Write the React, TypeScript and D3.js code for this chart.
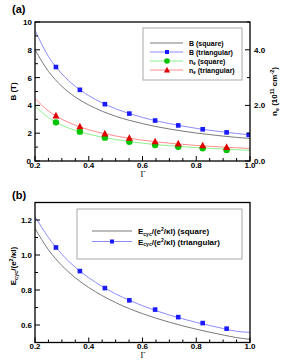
import React from "react";
import * as d3 from "d3";

// ---- data ----
const gammaGrid = [0.2, 0.25, 0.3, 0.35, 0.4, 0.45, 0.5, 0.55, 0.6, 0.65, 0.7, 0.75, 0.8, 0.85, 0.9, 0.95, 1.0];
const bSquare = [8.0, 6.45, 5.37, 4.6, 4.03, 3.58, 3.22, 2.93, 2.69, 2.48, 2.3, 2.15, 2.01, 1.9, 1.79, 1.7, 1.62];
const bTri = [9.4, 7.52, 6.27, 5.37, 4.7, 4.18, 3.76, 3.42, 3.13, 2.89, 2.69, 2.51, 2.35, 2.21, 2.09, 1.98, 1.88];
const neSquare = [1.98, 1.56, 1.29, 1.1, 0.965, 0.855, 0.77, 0.7, 0.64, 0.59, 0.55, 0.515, 0.48, 0.455, 0.43, 0.405, 0.385];
const neTri = [2.25, 1.8, 1.5, 1.29, 1.125, 1.0, 0.9, 0.82, 0.75, 0.69, 0.64, 0.6, 0.56, 0.53, 0.5, 0.475, 0.45];
const eSquare = [1.152, 1.03, 0.94, 0.87, 0.814, 0.768, 0.728, 0.694, 0.665, 0.639, 0.616, 0.595, 0.576, 0.559, 0.543, 0.528, 0.518];
const eTri = [1.22, 1.1, 1.004, 0.93, 0.87, 0.82, 0.778, 0.742, 0.71, 0.682, 0.657, 0.635, 0.615, 0.597, 0.58, 0.564, 0.558];

const markGamma = [0.278, 0.367, 0.46, 0.551, 0.647, 0.733, 0.824, 0.913];
const bTriMarks = [6.76, 5.12, 4.09, 3.41, 2.91, 2.56, 2.28, 2.06, 1.88];
const bTriMarkGamma = [0.278, 0.367, 0.46, 0.551, 0.647, 0.733, 0.824, 0.913, 0.995];
const neSquareMarks = [1.39, 1.055, 0.84, 0.695, 0.578, 0.515, 0.455, 0.4];
const neTriMarks = [1.63, 1.24, 0.985, 0.825, 0.7, 0.625, 0.555, 0.5];
const eTriMarks = [1.043, 0.908, 0.811, 0.741, 0.688, 0.645, 0.611, 0.579];

const xTicks = [0.2, 0.4, 0.6, 0.8, 1.0];
const bTicks = [0, 2, 4, 6, 8, 10];
const neTicks = [0, 2, 4];
const eTicks = [0.6, 0.8, 1.0, 1.2];

const BLUE_L = "#8c8cff";
const BLUE_M = "#1a1aff";
const GRAY_L = "#7a7a7a";
const GREEN_L = "#8ef08e";
const GREEN_M = "#00c400";
const RED_L = "#ff8c8c";
const RED_M = "#e00000";

const SANS = "'Liberation Sans', Arial, sans-serif";
const SERIF = "'Liberation Serif', 'DejaVu Serif', serif";

const x = d3.scaleLinear().domain([0.2, 1.0]).range([35, 250]);
const yA = d3.scaleLinear().domain([0, 10]).range([161, 22]);
const yN = d3.scaleLinear().domain([0, 5]).range([161, 22]);
const yE = d3.scaleLinear().domain([0.5, 1.3]).range([342.5, 202.5]);

function path(vals: number[], y: d3.ScaleLinear<number, number>) {
  const line = d3
    .line<number>()
    .x((_, i) => x(gammaGrid[i]))
    .y((v) => y(v))
    .curve(d3.curveMonotoneX);
  return line(vals) || "";
}

function range(a: number, b: number, s: number) {
  const out: number[] = [];
  for (let v = a; v <= b + 1e-9; v += s) out.push(+v.toFixed(4));
  return out;
}

const Square = ({ cx, cy, s = 4.6, fill }: any) => (
  <rect x={cx - s / 2} y={cy - s / 2} width={s} height={s} fill={fill} />
);
const Tri = ({ cx, cy, s = 7, fill }: any) => (
  <path d={`M${cx},${cy - s * 0.55} L${cx + s / 2},${cy + s * 0.4} L${cx - s / 2},${cy + s * 0.4} Z`} fill={fill} />
);

function XAxis({ y0, y1 }: { y0: number; y1: number }) {
  return (
    <g>
      {range(0.2, 1.0, 0.05).map((t) => {
        const major = xTicks.some((m) => Math.abs(m - t) < 1e-6);
        return <line key={t} x1={x(t)} x2={x(t)} y1={y0} y2={y0 - (major ? 5 : 3)} stroke="#000" strokeWidth={1} />;
      })}
      {xTicks.map((t) => (
        <text key={t} x={x(t)} y={y0 + 6.5} textAnchor="middle" fontFamily={SANS} fontWeight="bold" fontSize={8}>
          {t.toFixed(1)}
        </text>
      ))}
      <text x={143} y={y1} textAnchor="middle" fontFamily={SERIF} fontSize={8.5}>
        Γ
      </text>
    </g>
  );
}

export default function App() {
  const legA = [
    { label: "B (square)", color: GRAY_L, mark: null },
    { label: "B (triangular)", color: BLUE_L, mark: "sq" },
    { label: "n", sub: "e", rest: " (square)", color: GREEN_L, mark: "ci" },
    { label: "n", sub: "e", rest: " (triangular)", color: RED_L, mark: "tr" },
  ];
  const legAy = [43, 52, 61, 70];

  return (
    <svg width={291} height={363} style={{ position: "absolute", left: 0, top: 0 }} xmlns="http://www.w3.org/2000/svg">
      <rect x={0} y={0} width={291} height={363} fill="#fff" />
      {/* ---------- Panel (a) ---------- */}
      <text x={12} y={13} fontFamily={SANS} fontWeight="bold" fontSize={11}>(a)</text>
      <defs>
        <clipPath id="ca"><rect x={35} y={22} width={215} height={139} /></clipPath>
        <clipPath id="cb"><rect x={35} y={202.5} width={215} height={140} /></clipPath>
      </defs>
      <g clipPath="url(#ca)">
        <path d={path(bSquare, yA)} fill="none" stroke={GRAY_L} strokeWidth={1} />
        <path d={path(bTri, yA)} fill="none" stroke={BLUE_L} strokeWidth={1} />
        <path d={path(neSquare, yN)} fill="none" stroke={GREEN_L} strokeWidth={1} />
        <path d={path(neTri, yN)} fill="none" stroke={RED_L} strokeWidth={1} />
        {bTriMarks.map((v, i) => <Square key={i} cx={x(bTriMarkGamma[i])} cy={yA(v)} fill={BLUE_M} />)}
        {neSquareMarks.map((v, i) => <circle key={i} cx={x(markGamma[i])} cy={yN(v)} r={3.2} fill={GREEN_M} />)}
        {neTriMarks.map((v, i) => <Tri key={i} cx={x(markGamma[i])} cy={yN(v)} fill={RED_M} />)}
      </g>
      {/* left ticks */}
      {range(0, 10, 1).map((t) => (
        <line key={t} x1={35} x2={35 + (t % 2 === 0 ? 5 : 3)} y1={yA(t)} y2={yA(t)} stroke="#000" strokeWidth={1} />
      ))}
      {bTicks.map((t) => (
        <text key={t} x={t === 0 ? 31 : 32} y={yA(t) + 3} textAnchor="end" fontFamily={SANS} fontWeight="bold" fontSize={8}>
          {t}
        </text>
      ))}
      {/* right ticks */}
      {range(0, 5, 1).map((t) => (
        <line key={t} x1={250} x2={250 - (t % 2 === 0 ? 5 : 3)} y1={yN(t)} y2={yN(t)} stroke="#000" strokeWidth={1} />
      ))}
      {neTicks.map((t) => (
        <text key={t} x={254} y={yN(t) + 3} textAnchor="start" fontFamily={SANS} fontWeight="bold" fontSize={8}>
          {t.toFixed(1)}
        </text>
      ))}
      <XAxis y0={161} y1={176.5} />
      <rect x={35} y={22} width={215} height={139} fill="none" stroke="#000" strokeWidth={1.3} />
      {/* axis titles */}
      <text transform="translate(16,91.5) rotate(-90)" textAnchor="middle" fontFamily={SANS} fontWeight="bold" fontSize={8}>
        B (T)
      </text>
      <text transform="translate(277,91.5) rotate(-90)" textAnchor="middle" fontFamily={SANS} fontWeight="bold" fontSize={8}>
        n<tspan fontSize={5.5} dy={1.5}>e</tspan>
        <tspan dy={-1.5}> (10</tspan>
        <tspan fontSize={5.5} dy={-3}>11</tspan>
        <tspan dy={3}> cm</tspan>
        <tspan fontSize={5.5} dy={-3}>-2</tspan>
        <tspan dy={3}>)</tspan>
      </text>
      {/* legend a */}
      <rect x={143} y={28} width={99} height={52} fill="#fff" stroke="#a8a8a8" strokeWidth={1} />
      {legA.map((l, i) => {
        const cy = legAy[i];
        return (
          <g key={i}>
            <line x1={150} x2={183} y1={cy} y2={cy} stroke={l.color} strokeWidth={1} />
            {l.mark === "sq" && <Square cx={167} cy={cy} s={4} fill={BLUE_M} />}
            {l.mark === "ci" && <circle cx={167} cy={cy} r={2.8} fill={GREEN_M} />}
            {l.mark === "tr" && <Tri cx={167} cy={cy} s={6} fill={RED_M} />}
            <text x={189} y={cy + 2.5} fontFamily={SANS} fontWeight="bold" fontSize={7}>
              {l.label}
              {l.sub && <tspan fontSize={4.5} dy={1.5}>{l.sub}</tspan>}
              {l.rest && <tspan dy={l.sub ? -1.5 : 0}>{l.rest}</tspan>}
            </text>
          </g>
        );
      })}

      {/* ---------- Panel (b) ---------- */}
      <text x={12} y={199} fontFamily={SANS} fontWeight="bold" fontSize={11}>(b)</text>
      <g clipPath="url(#cb)">
        <path d={path(eSquare, yE)} fill="none" stroke={GRAY_L} strokeWidth={1} />
        <path d={path(eTri, yE)} fill="none" stroke={BLUE_L} strokeWidth={1} />
        {eTriMarks.map((v, i) => <Square key={i} cx={x(markGamma[i])} cy={yE(v)} fill={BLUE_M} />)}
      </g>
      {range(0.5, 1.3, 0.1).map((t) => {
        const major = eTicks.some((m) => Math.abs(m - t) < 1e-6);
        return <line key={t} x1={35} x2={35 + (major ? 5 : 3)} y1={yE(t)} y2={yE(t)} stroke="#000" strokeWidth={1} />;
      })}
      {eTicks.map((t) => (
        <text key={t} x={32} y={yE(t) + 3} textAnchor="end" fontFamily={SANS} fontWeight="bold" fontSize={8}>
          {t.toFixed(1)}
        </text>
      ))}
      <XAxis y0={342.5} y1={358} />
      <rect x={35} y={202.5} width={215} height={140} fill="none" stroke="#000" strokeWidth={1.3} />
      <text transform="translate(16,266) rotate(-90)" textAnchor="middle" fontFamily={SANS} fontWeight="bold" fontSize={8}>
        E<tspan fontSize={5.5} dy={1.5}>cyc</tspan>
        <tspan dy={-1.5}>/(e</tspan>
        <tspan fontSize={5.5} dy={-3}>2</tspan>
        <tspan dy={3}>/κl)</tspan>
      </text>
      {/* legend b */}
      <rect x={77} y={209} width={165} height={50} fill="#fff" stroke="#a8a8a8" strokeWidth={1} />
      {[
        { label: "(square)", color: GRAY_L, mark: false, cy: 231 },
        { label: "(triangular)", color: BLUE_L, mark: true, cy: 241.5 },
      ].map((l, i) => (
        <g key={i}>
          <line x1={92} x2={132} y1={l.cy} y2={l.cy} stroke={l.color} strokeWidth={1} />
          {l.mark && <Square cx={112} cy={l.cy} s={4} fill={BLUE_M} />}
          <text x={138} y={l.cy + 3} fontFamily={SANS} fontWeight="bold" fontSize={8}>
            E<tspan fontSize={5} dy={1.5}>cyc</tspan>
            <tspan dy={-1.5}>/(e</tspan>
            <tspan fontSize={5} dy={-3}>2</tspan>
            <tspan dy={3}>/κl) {l.label}</tspan>
          </text>
        </g>
      ))}
    </svg>
  );
}
